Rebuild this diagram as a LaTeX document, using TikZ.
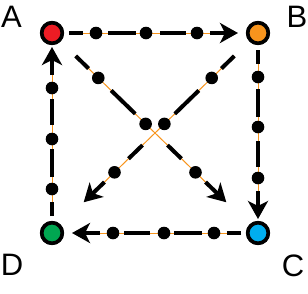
\documentclass[tikz,border=0pt]{standalone}
\usepackage{fontspec}
\setmainfont{Liberation Sans}
\usetikzlibrary{arrows.meta,calc}
\definecolor{cA}{HTML}{ED1C24}
\definecolor{cB}{HTML}{F7941D}
\definecolor{cC}{HTML}{00AEEF}
\definecolor{cD}{HTML}{00A651}
\definecolor{lineorange}{HTML}{F7941D}
\tikzset{
  vertex/.style={circle, draw=black, line width=3.6pt, minimum size=20.5pt, inner sep=0pt},
  lab/.style={font=\fontsize{31}{31}\selectfont, inner sep=0pt},
  orangeline/.style={draw=lineorange, line width=1pt},
  seg/.style={draw=black, line width=4pt},
  headseg/.style={seg, -{Stealth[length=18pt,width=20pt,inset=5pt]}},
}
\newcommand\flowedge[7]{%
  \draw[orangeline] ($(#1.center)!#3pt!(#2.center)$) -- ($(#1.center)!#6pt!(#2.center)$);
  \foreach \s/\e in {#4} {\draw[seg] ($(#1.center)!\s pt!(#2.center)$) -- ($(#1.center)!\e pt!(#2.center)$);}
  \foreach \d in {#5} {\fill[black] ($(#1.center)!\d pt!(#2.center)$) circle[radius=6.3pt];}
  \draw[headseg] ($(#1.center)!#6pt!(#2.center)$) -- ($(#1.center)!#7pt!(#2.center)$);
}
\begin{document}
\begin{tikzpicture}[x=1pt,y=-1pt]
\useasboundingbox (0,0) rectangle (308,293);
\coordinate (pA) at (52,33);
\coordinate (pB) at (258,33);
\coordinate (pC) at (258,233);
\coordinate (pD) at (52,233);
\path (pA) node[vertex] (A) {} (pB) node[vertex] (B) {} (pC) node[vertex] (C) {} (pD) node[vertex] (D) {};
\flowedge{A}{B}{17}{17/31,56/84,108/134}{44,94,145}{158}{186}
\flowedge{B}{C}{17}{17/31,56/84,108/134}{44,94,145}{158}{186}
\flowedge{C}{D}{17}{17/31,56/84,108/134}{44,94,145}{158}{186}
\flowedge{D}{A}{17}{17/31,56/84,108/134}{44,94,145}{158}{186}
\flowedge{A}{C}{33}{33/51,82.5/116,161/180.5}{64.5,130.5,200}{214}{243}
\flowedge{B}{D}{33}{33/51,82.5/116,161/180.5}{64.5,130.5,200}{214}{243}
\node[vertex, fill=cA] at (A) {};
\node[vertex, fill=cB] at (B) {};
\node[vertex, fill=cC] at (C) {};
\node[vertex, fill=cD] at (D) {};
\node[lab] (lA) at (11.5,16.5) {A};
\node[lab] (lB) at (297,16.5) {B};
\node[lab] (lC) at (293,265.5) {C};
\node[lab] (lD) at (12,264.5) {D};
\end{tikzpicture}
\end{document}
